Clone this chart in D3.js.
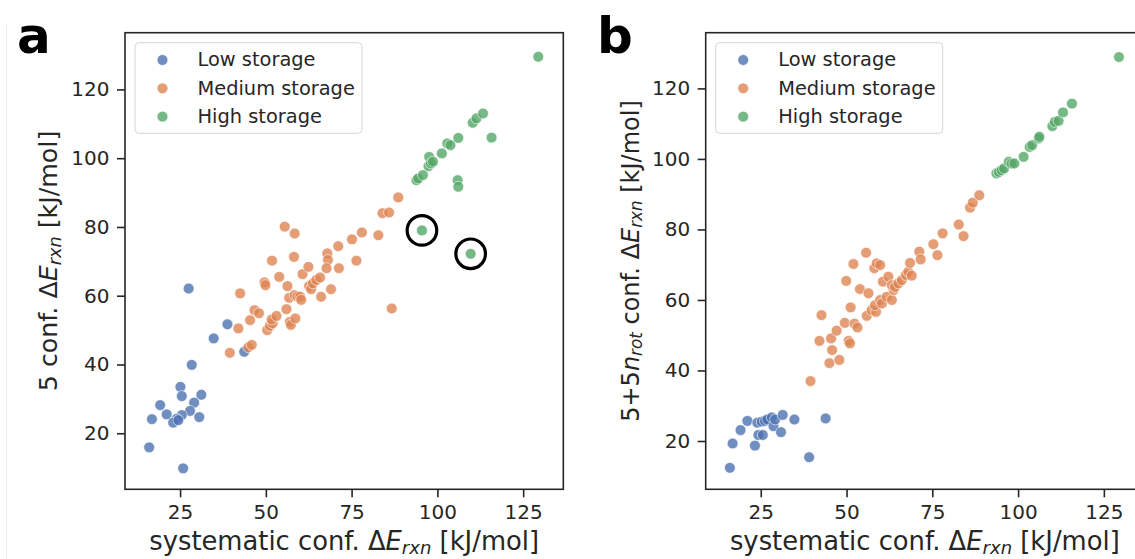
<!DOCTYPE html>
<html>
<head>
<meta charset="utf-8">
<script src="https://cdn.jsdelivr.net/npm/d3@7"></script>
<style>
  body { margin: 0; background: #fff; }
  svg { display: block; }
  text { font-family: "DejaVu Sans", sans-serif; fill: #262626; }
</style>
</head>
<body>
<svg id="chart" width="1135" height="559"></svg>
<script>
// values, [systematic, other] in kJ/mol
const lowA = [[27.5,62.1],[38.8,51.7],[34.8,47.6],[43.7,43.7],[28.4,39.9],[25.1,33.5],[25.5,30.8],[31.2,31.2],[29.1,28.9],[19.2,28.2],[27.9,26.5],[21.1,25.5],[25.5,25.3],[30.6,24.7],[24.0,24.2],[23.0,23.1],[24.5,23.8],[16.8,24.1],[16.0,15.9],[25.9,9.8]];
const medA = [[39.5,43.4],[42.0,50.5],[42.5,60.7],[44.9,45.0],[45.9,45.7],[45.4,52.9],[46.7,55.8],[48.0,54.9],[49.6,63.9],[49.9,63.1],[50.4,50.0],[51.2,51.2],[52.0,52.0],[51.7,53.1],[53.1,54.1],[53.9,65.5],[51.8,70.2],[55.5,80.1],[58.4,78.1],[58.2,71.3],[56.0,56.1],[56.3,62.8],[56.8,59.4],[57.0,52.4],[57.3,51.5],[58.4,60.2],[58.6,53.4],[59.2,59.8],[60.0,59.7],[60.3,58.8],[60.7,66.3],[62.4,68.4],[62.6,62.8],[63.2,61.9],[63.7,63.6],[64.7,64.6],[65.8,65.3],[66.1,59.7],[67.9,72.3],[68.1,70.4],[67.7,68.0],[69.0,61.9],[71.1,74.4],[71.3,68.0],[75.1,76.4],[76.4,70.2],[78.0,78.4],[82.8,77.6],[84.0,84.0],[85.9,84.2],[86.7,56.3],[88.6,88.6]];
const highA = [[93.9,93.6],[94.4,94.1],[95.8,95.1],[97.6,100.4],[97.4,97.7],[98.1,98.5],[98.7,99.0],[101.3,101.4],[102.9,104.3],[103.8,103.8],[106.1,105.9],[105.9,93.6],[106.1,91.7],[110.3,110.3],[111.4,111.6],[113.3,113.0],[115.8,106.0],[129.4,129.5],[95.5,79.0],[109.7,72.2]];
const circledA = [[95.5,79.0],[109.7,72.2]];

const lowB = [[16.0,12.4],[16.8,19.3],[19.1,23.1],[21.1,25.7],[23.3,18.7],[24.3,21.7],[25.6,21.7],[24.0,25.2],[25.3,25.5],[26.2,25.7],[26.9,26.1],[28.2,26.7],[28.7,24.2],[29.2,26.1],[30.9,22.5],[31.4,27.4],[34.8,26.1],[39.1,15.4],[43.9,26.4]];
const medB = [[39.5,37.0],[45.0,42.1],[47.9,43.0],[45.8,45.8],[42.1,48.4],[45.5,49.1],[47.1,51.3],[50.6,48.4],[51.0,47.7],[49.5,53.5],[52.3,53.3],[53.2,52.2],[42.7,55.7],[51.2,57.9],[55.9,55.5],[57.3,57.1],[58.6,56.6],[58.3,58.5],[59.8,60.0],[60.3,59.0],[61.7,60.9],[63.2,60.0],[63.7,62.8],[53.9,63.1],[56.4,61.9],[49.9,65.4],[52.0,70.2],[55.7,73.4],[58.1,69.0],[58.8,70.4],[59.8,69.9],[60.6,65.2],[62.2,66.6],[63.2,64.2],[64.1,63.7],[65.1,64.7],[66.1,65.6],[67.3,67.1],[68.0,68.0],[69.0,66.9],[68.5,70.5],[71.2,73.7],[71.6,71.5],[75.3,75.8],[76.5,72.7],[78.0,78.9],[82.7,81.4],[84.1,78.1],[86.0,86.2],[86.8,87.6],[88.7,89.7]];
const highB = [[93.7,95.9],[94.4,96.3],[95.2,96.8],[95.9,97.3],[97.3,99.2],[98.1,98.7],[98.9,98.7],[101.6,100.6],[103.4,103.4],[104.1,103.9],[106.0,105.8],[106.2,106.3],[110.0,109.3],[110.7,110.5],[111.8,110.8],[113.1,113.2],[115.7,115.7],[129.4,128.9]];

const seriesNames = ["Low storage", "Medium storage", "High storage"];
const seriesColors = ["#4C72B0", "#DD8452", "#55A868"];
const xTicks = [25, 50, 75, 100, 125];
const yTicks = [20, 40, 60, 80, 100, 120];

const svg = d3.select("#chart");

// faint scan edge on the left of the figure
svg.append("line")
  .attr("x1", 6.5).attr("x2", 6.5).attr("y1", 24).attr("y2", 559)
  .attr("stroke", "#ececec").attr("stroke-width", 1);

// label with an italic symbol and a lowered italic subscript
function mathPart(t, sym, sub, fs) {
  t.append("tspan").attr("font-style", "italic").text(sym);
  t.append("tspan").attr("font-style", "italic").attr("font-size", fs * 0.7).attr("dy", fs * 0.16).text(sub);
}

function drawPanel(cfg) {
  const { left, top, width, height } = cfg;

  const x = d3.scaleLinear().domain([8.95, 136.7]).range([left, left + width]);
  const y = d3.scaleLinear().domain(cfg.yDomain).range([top + height, top]);

  const g = svg.append("g");

  // axes
  g.append("g")
    .attr("transform", `translate(0,${top + height})`)
    .call(d3.axisBottom(x).tickValues(xTicks).tickSize(8).tickSizeOuter(0).tickPadding(7.5))
    .call((ax) => ax.select(".domain").remove())
    .call((ax) => ax.selectAll("line").attr("stroke", "#262626").attr("stroke-width", 1.6))
    .call((ax) => ax.selectAll("text").attr("font-size", 20).attr("fill", "#262626"));

  g.append("g")
    .attr("transform", `translate(${left},0)`)
    .call(d3.axisLeft(y).tickValues(yTicks).tickSize(8).tickSizeOuter(0).tickPadding(7.5))
    .call((ax) => ax.select(".domain").remove())
    .call((ax) => ax.selectAll("line").attr("stroke", "#262626").attr("stroke-width", 1.6))
    .call((ax) => ax.selectAll("text").attr("font-size", 20).attr("fill", "#262626"));

  // points
  const pts = [];
  cfg.series.forEach((s, i) => s.forEach((d) => pts.push({ d, i })));
  g.append("g")
    .selectAll("circle")
    .data(pts)
    .enter()
    .append("circle")
    .attr("cx", (p) => x(p.d[0]))
    .attr("cy", (p) => y(p.d[1]))
    .attr("r", 5.4)
    .attr("fill", (p) => seriesColors[p.i])
    .attr("fill-opacity", 0.8)
    .attr("stroke", "#fff")
    .attr("stroke-width", 0.6);

  // highlighted points
  g.append("g")
    .selectAll("circle")
    .data(cfg.circled || [])
    .enter()
    .append("circle")
    .attr("cx", (d) => x(d[0]))
    .attr("cy", (d) => y(d[1]))
    .attr("r", 14.8)
    .attr("fill", "none")
    .attr("stroke", "#000")
    .attr("stroke-width", 3.2);

  // frame
  g.append("rect")
    .attr("x", left).attr("y", top)
    .attr("width", width).attr("height", height)
    .attr("fill", "none")
    .attr("stroke", "#262626")
    .attr("stroke-width", 1.6);

  // legend
  const lg = g.append("g").attr("transform", `translate(${left + 10},${top + 10})`);
  lg.append("rect")
    .attr("width", 227).attr("height", 90.6).attr("rx", 4)
    .attr("fill", "#fff").attr("fill-opacity", 0.8)
    .attr("stroke", "#d6d6d6").attr("stroke-width", 1);
  seriesNames.forEach((name, i) => {
    const yy = 17.3 + i * 28.3;
    lg.append("circle")
      .attr("cx", 27.5).attr("cy", yy).attr("r", 5.4)
      .attr("fill", seriesColors[i]).attr("fill-opacity", 0.8)
      .attr("stroke", "#fff").attr("stroke-width", 0.6);
    lg.append("text")
      .attr("x", 62.5).attr("y", yy + 6.5)
      .attr("font-size", 19.4)
      .text(name);
  });

  // x label
  const xfs = 25.8;
  const xl = g.append("text")
    .attr("x", left + width / 2).attr("y", 550)
    .attr("text-anchor", "middle")
    .attr("font-size", xfs);
  xl.append("tspan").text("systematic conf. \u0394");
  mathPart(xl, "E", "rxn", xfs);
  xl.append("tspan").attr("dy", -xfs * 0.16).text(" [kJ/mol]");

  // y label
  const yl = g.append("text")
    .attr("transform", `translate(${cfg.yLabelX},${top + height / 2}) rotate(-90)`)
    .attr("text-anchor", "middle")
    .attr("font-size", cfg.yLabelSize);
  cfg.yLabel(yl, cfg.yLabelSize);

  // panel letter
  svg.append("text")
    .attr("x", cfg.letterX).attr("y", 53)
    .attr("font-family", "'Liberation Sans', Arial, sans-serif")
    .attr("font-weight", "bold")
    .attr("font-size", 50)
    .style("fill", "#000")
    .text(cfg.letter);
}

drawPanel({
  left: 125, top: 32.7, width: 438.3, height: 456.6,
  yDomain: [3.7, 136.5],
  series: [lowA, medA, highA],
  circled: circledA,
  yLabelX: 56.5, yLabelSize: 25.3,
  letter: "a", letterX: 17,
  yLabel: (t, fs) => {
    t.append("tspan").text("5 conf. \u0394");
    mathPart(t, "E", "rxn", fs);
    t.append("tspan").attr("dy", -fs * 0.16).text(" [kJ/mol]");
  }
});

drawPanel({
  left: 705.7, top: 32.7, width: 438.3, height: 456.6,
  yDomain: [6.3, 135.8],
  series: [lowB, medB, highB],
  circled: [],
  yLabelX: 638.5, yLabelSize: 24,
  letter: "b", letterX: 597,
  yLabel: (t, fs) => {
    t.append("tspan").text("5+5");
    mathPart(t, "n", "rot", fs);
    t.append("tspan").attr("dy", -fs * 0.16).text(" conf. \u0394");
    mathPart(t, "E", "rxn", fs);
    t.append("tspan").attr("dy", -fs * 0.16).text(" [kJ/mol]");
  }
});
</script>
</body>
</html>
